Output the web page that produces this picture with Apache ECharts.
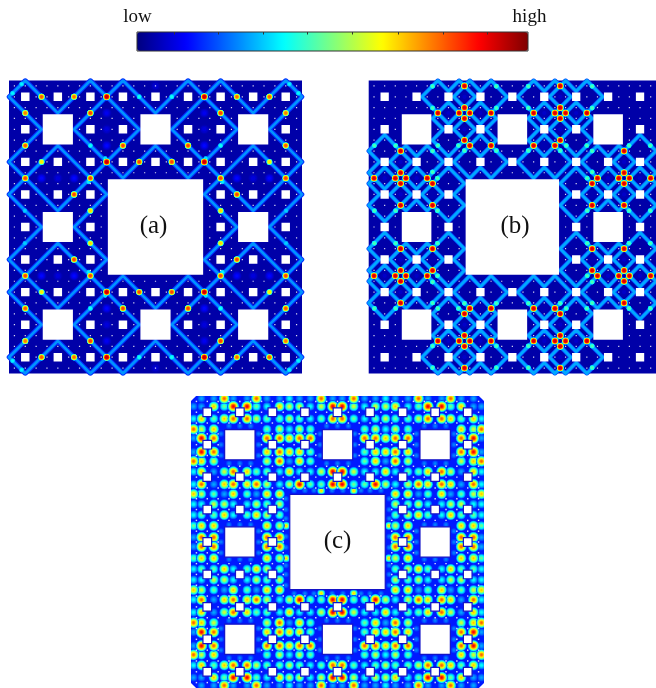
<!DOCTYPE html>
<html>
<head>
<meta charset="utf-8">
<style>html,body{margin:0;padding:0;background:#fff;overflow:hidden}#main{width:656px;height:688px;filter:blur(0.6px)}</style>
<script src="https://cdn.jsdelivr.net/npm/echarts@6/dist/echarts.min.js"></script>
</head>
<body>
<div id="main"></div>
<script>
const jetStops = ['#00007f', '#0000ff', '#007fff', '#00ffff', '#7fff7f', '#ffff00', '#ff7f00', '#ff0000', '#7f0000'];
const colorbarTicks = [0.094, 0.207, 0.322, 0.436, 0.551, 0.667, 0.782, 0.895];
const carpetSizes = [27, 9, 3, 1];

// panel (a), read in carpet cells (0-81), top left quadrant: the other three are its mirror images
const beamsA = [
  [[4.5, 0], [0, 4.5], [9, 13.5], [0, 22.5], [13.5, 36], [36, 13.5], [22.5, 0], [13.5, 9], [4.5, 0]],
  [[18, 13.5], [31.5, 0], [40.5, 9], [49.5, 0], [63, 13.5], [49.5, 27], [40.5, 18], [31.5, 27], [18, 13.5]],
  [[13.5, 18], [0, 31.5], [9, 40.5], [0, 49.5], [13.5, 63], [27, 49.5], [18, 40.5], [27, 31.5], [13.5, 18]]
];
const spotsA = [
  [9, 4.5, 0.8], [18, 4.5, 0.78], [27, 4.5, 0.95], [4.5, 9, 0.77], [22.5, 9, 0.83], [4.5, 18, 0.8],
  [31.5, 18, 0.82], [9, 22.5, 0.66], [27, 22.5, 0.95], [36, 22.5, 0.82], [4.5, 27, 0.82], [22.5, 27, 0.82],
  [18, 31.5, 0.82], [22.5, 36, 0.68],
  [3.5, 1, 0.38], [1, 3.5, 0.38], [36, 4.5, 0.4], [22.5, 18, 0.4], [26.6, 21.6, 0.38], [22, 28, 0.38], [4.4, 36, 0.34]
];
const dimA = [
  [27, 9, 0.13], [27, 13.5, 0.11], [27, 18, 0.15], [22.5, 13.5, 0.09], [31.5, 13.5, 0.09], [9, 27, 0.15], [18, 27, 0.15],
  [13.5, 27, 0.11], [13.5, 22.5, 0.09], [13.5, 31.5, 0.09], [40.5, 1.5, 0.1]
];

// panel (b), read in carpet cells: one tile, repeated by the carpet's eight symmetries
const beamsB = [
  [[15, 4.5], [19.5, 0], [22.5, 3], [25.5, 0], [30, 4.5], [22.5, 12], [15, 4.5]],
  [[39, 4.5], [34.5, 0], [31.5, 3], [28.5, 0], [24, 4.5], [31.5, 12], [39, 4.5]],
  [[22.5, 6], [30, 13.5], [22.5, 21], [18, 16.5], [21, 13.5], [18, 10.5], [22.5, 6]],
  [[31.5, 6], [24, 13.5], [31.5, 21], [36, 16.5], [33, 13.5], [36, 10.5], [31.5, 6]],
  [[31.5, 15], [24, 22.5], [28.5, 27], [31.5, 24], [34.5, 27], [39, 22.5], [31.5, 15]]
];
const spotsB = [
  [27, 1.5, 0.93], [27, 7.5, 0.93], [25.5, 9, 0.93], [28.5, 9, 0.93], [27, 10.5, 0.93], [19.5, 9, 0.93], [34.5, 9, 0.93],
  [27, 16.5, 0.93], [28.5, 18, 0.93], [34.5, 18, 0.93],
  [18, 1.6, 0.46], [18, 7.6, 0.46], [36, 1.6, 0.46], [36, 7.6, 0.46], [19.5, 18, 0.46], [25.3, 18, 0.46], [27, 19.4, 0.46],
  [36, 19.4, 0.46]
];
const dimB = [[27, 4.5, 0.08], [27, 13.5, 0.08], [31.5, 9, 0.08], [22.5, 9, 0.08], [31.5, 18, 0.07]];

// panel (c), one digit per blob (tenths of the colour scale), read at the crossings of blobLines
const blobLines = [0.7, 2.9, 6.3, 9.2, 11.7, 15.5, 18.1, 21, 24.5, 27.2, 30, 33, 36, 39.2,
  41.8, 45, 48, 51, 53.8, 56.5, 60, 62.9, 65.5, 69.3, 71.8, 74.7, 78.1, 80.3];
const blobRowsC = [
  '0338338334338338334338338330',
  '3375995476646996466745995733',
  '4757886556545885456556887574',
  '8670000564650000564650000768',
  '3980000887880000887880000893',
  '3980000787750000577870000893',
  '8760000683750000573860000678',
  '4736875547446996447455786374',
  '4837878646955995596468787384',
  '7653753770000000000773573567',
  '4466446560000000000656446644',
  '4557457650000000000567547554',
  '5770000760000000000670000775',
  '3880000880000000000880000883',
  '3880000880000000000880000883',
  '5770000760000000000670000775',
  '4557457650000000000567547554',
  '4466446560000000000656446644',
  '7653753770000000000773573567',
  '4837878646955995596468787384',
  '4736875547446996447455786374',
  '8760000683750000573860000678',
  '3980000787750000577870000893',
  '3980000887880000887880000893',
  '8670000564650000564650000768',
  '4757886556545885456556887574',
  '3375995476646996466745995733',
  '0338338334338338334338338330'
];
// faint spots hugging the large holes of panel (c), one tile as in (b)
const edgeSpotsC = [
  [10.5, 8.3, 0.27], [13.5, 8.3, 0.27], [16.5, 8.3, 0.27], [10.5, 18.7, 0.27], [13.5, 18.7, 0.27], [16.5, 18.7, 0.27],
  [8.3, 10.5, 0.27], [8.3, 13.5, 0.27], [8.3, 16.5, 0.27], [18.7, 10.5, 0.27], [18.7, 13.5, 0.27], [18.7, 16.5, 0.27],
  [37.5, 8.3, 0.27], [40.5, 8.3, 0.27], [37.5, 18.7, 0.27], [40.5, 18.7, 0.27], [35.7, 10.5, 0.27], [35.7, 13.5, 0.27],
  [35.7, 16.5, 0.27], [28.5, 26.2, 0.27], [31.5, 26.2, 0.27], [34, 26.2, 0.27], [36, 26.3, 0.7], [39, 26.2, 0.27]
];
// panel (c) has its corners cut off
const cornersC = [
  [[0, 0], [1.4, 0], [0, 1.4]], [[81, 0], [79.6, 0], [81, 1.4]],
  [[0, 81], [1.4, 81], [0, 79.6]], [[81, 81], [79.6, 81], [81, 79.6]]
];

function carpetHoles() {
  const holes = [];
  const walk = (x, y, level) => {
    if (level >= carpetSizes.length) return;
    const s = carpetSizes[level];
    holes.push([x + s * 1.5, y + s * 1.5, s]);
    for (let i = 0; i < 3; i++) {
      for (let j = 0; j < 3; j++) {
        if (i !== 1 || j !== 1) walk(x + i * s, y + j * s, level + 1);
      }
    }
  };
  walk(0, 0, 0);
  return holes;
}

const mirror2 = [(x, y) => [x, y], (x, y) => [81 - x, y], (x, y) => [x, 81 - y], (x, y) => [81 - x, 81 - y]];
const mirror8 = mirror2.concat(mirror2.map(f => (x, y) => f(y, x)));

function placeLoops(loops, maps) {
  const out = [];
  maps.forEach(f => {
    loops.forEach(loop => {
      loop.forEach(p => out.push(f(p[0], p[1])));
      out.push([null, null]);
    });
  });
  return out;
}
function placeSpots(spots, maps) {
  const out = [];
  maps.forEach(f => spots.forEach(s => out.push(f(s[0], s[1]).concat(s[2]))));
  return out;
}

const jet = v => echarts.color.lerp(v, jetStops);

function blobSeries(i, data, radius, floor, z, power) {
  return {
    type: 'custom',
    xAxisIndex: i,
    yAxisIndex: i,
    coordinateSystem: 'cartesian2d',
    encode: { x: 0, y: 1 },
    clip: true,
    z: z,
    silent: true,
    data: data.slice().sort((a, b) => a[2] - b[2]),
    renderItem(params, api) {
      const p = api.coord([api.value(0), api.value(1)]);
      const v = api.value(2);
      const R = api.size([radius, radius])[0] * (0.6 + 0.6 * v);
      const children = [];
      for (let l = floor; l < v; l += 0.02) {
        const t = (l - floor) / (v - floor);
        children.push({
          type: 'circle',
          shape: { cx: p[0], cy: p[1], r: R * Math.pow(1 - t, power) },
          style: { fill: jet(l) }
        });
      }
      return { type: 'group', children };
    }
  };
}

function holeSeries(i, inset, stroke) {
  return {
    type: 'custom',
    xAxisIndex: i,
    yAxisIndex: i,
    coordinateSystem: 'cartesian2d',
    encode: { x: 0, y: 1 },
    clip: true,
    z: 10,
    silent: true,
    data: carpetHoles(),
    renderItem(params, api) {
      const s = api.value(2);
      const p = api.coord([api.value(0) - s / 2 + inset, api.value(1) - s / 2 + inset]);
      const w = api.size([s - 2 * inset, s - 2 * inset]);
      const small = s === 1;
      return {
        type: 'rect',
        shape: { x: p[0], y: p[1], width: w[0], height: w[1] },
        style: small ? { fill: 'rgba(255,255,255,0.85)' } : { fill: '#fff', stroke: stroke, lineWidth: stroke ? 1.2 : 0 }
      };
    }
  };
}

function beamSeries(i, data, width, level) {
  return {
    type: 'line',
    xAxisIndex: i,
    yAxisIndex: i,
    data: data,
    symbol: 'none',
    silent: true,
    connectNulls: false,
    z: 3,
    lineStyle: { color: jet(level), width: width, join: 'round', cap: 'round' }
  };
}

const blobsC = [];
blobRowsC.forEach((row, j) => {
  row.split('').forEach((d, i) => {
    if (d !== '0') blobsC.push([blobLines[i], blobLines[j], +d / 10]);
  });
});

const panels = [
  { left: 9, top: 80.5, bg: jet(0.04) },
  { left: 368.7, top: 80.5, bg: jet(0.04) },
  { left: 191, top: 396, bg: jet(0.15) }
];
const beamPathA = placeLoops(beamsA, mirror2);
const beamPathB = placeLoops(beamsB, mirror8);

const labelFont = { fontFamily: 'Liberation Serif', fontWeight: 'normal', color: '#111' };
const title = (text, left, top, size) => ({
  text, left, top, padding: 0, z: 20, textAlign: 'center', textVerticalAlign: 'middle',
  textStyle: Object.assign({ fontSize: size }, labelFont)
});

const chart = echarts.init(document.getElementById('main'), null, { renderer: 'canvas' });
chart.setOption({
  animation: false,
  title: [
    title('low', 137.5, 17, 19), title('high', 529.5, 17, 19),
    title('(a)', 153.5, 226, 25), title('(b)', 515, 226, 25), title('(c)', 337.5, 541, 25)
  ],
  visualMap: {
    type: 'continuous', min: 0, max: 1, orient: 'horizontal', left: 137, top: 32, padding: 0,
    itemWidth: 19, itemHeight: 391, calculable: false, hoverLink: false, text: null, showLabel: false,
    seriesIndex: [], inRange: { color: jetStops }
  },
  grid: panels.map(p => ({
    left: p.left, top: p.top, width: 293, height: 293, show: true, backgroundColor: p.bg, borderWidth: 0
  })).concat({ left: 137, top: 32, width: 391, height: 19, show: true, z: 6, backgroundColor: 'transparent', borderColor: '#333', borderWidth: 1 }),
  xAxis: [0, 1, 2].map(i => ({ type: 'value', gridIndex: i, min: 0, max: 81, show: false })).concat({
    type: 'value', gridIndex: 3, min: 0, max: 1, position: 'top', z: 7,
    axisLine: { show: false }, axisLabel: { show: false }, splitLine: { show: false },
    axisTick: { show: true, inside: true, length: 2.5, customValues: colorbarTicks, lineStyle: { color: '#333', width: 1 } }
  }),
  yAxis: [0, 1, 2, 3].map(i => ({ type: 'value', gridIndex: i, min: 0, max: 81, inverse: true, show: false })),
  series: [
    blobSeries(0, placeSpots(dimA, mirror2), 2, 0.05, 2, 0.7),
    beamSeries(0, beamPathA, 4.6, 0.17),
    beamSeries(0, beamPathA, 2.6, 0.27),
    blobSeries(0, placeSpots(spotsA, mirror2), 0.8, 0.27, 4, 0.28),
    holeSeries(0, 0.33, null),
    blobSeries(1, placeSpots(dimB, mirror8), 2, 0.05, 2, 0.7),
    beamSeries(1, beamPathB, 4.4, 0.2),
    beamSeries(1, beamPathB, 2.8, 0.29),
    blobSeries(1, placeSpots(spotsB, mirror8), 0.8, 0.29, 4, 0.28),
    holeSeries(1, 0.33, null),
    blobSeries(2, placeSpots(edgeSpotsC, mirror8), 1.1, 0.17, 4, 0.7),
    blobSeries(2, blobsC, 1.42, 0.17, 4, 0.6),
    holeSeries(2, 0.3, '#1414c8'),
    {
      type: 'custom', xAxisIndex: 2, yAxisIndex: 2, coordinateSystem: 'cartesian2d', z: 11, silent: true,
      data: cornersC.map((c, i) => [i]),
      renderItem(params, api) {
        return { type: 'polygon', shape: { points: cornersC[params.dataIndex].map(p => api.coord(p)) }, style: { fill: '#fff' } };
      }
    }
  ]
});
</script>
</body>
</html>
